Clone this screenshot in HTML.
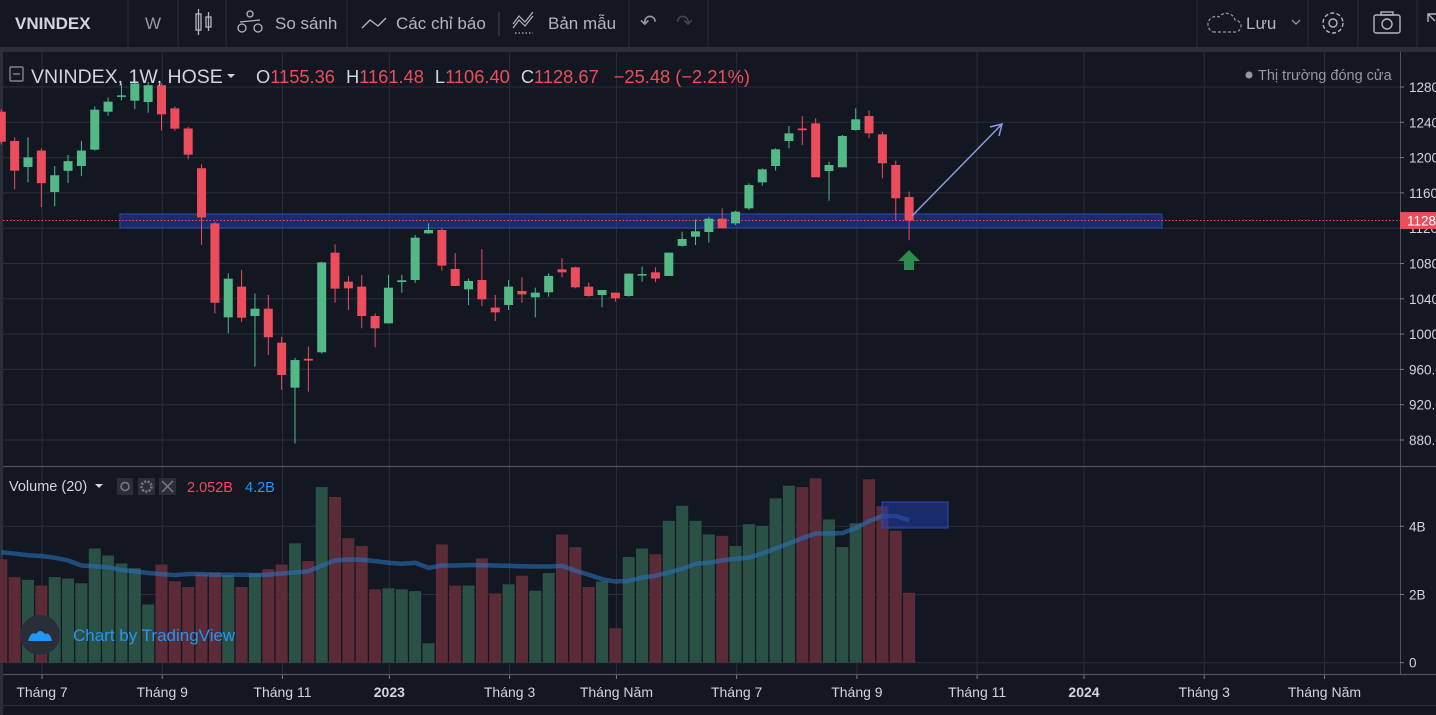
<!DOCTYPE html>
<html><head><meta charset="utf-8"><style>
html,body{margin:0;padding:0;background:#131722;width:1436px;height:715px;overflow:hidden;font-family:"Liberation Sans","DejaVu Sans",sans-serif}
svg{position:absolute;left:0;top:0}
</style></head><body>
<svg id="chart" width="1436" height="715" viewBox="0 0 1436 715" xmlns="http://www.w3.org/2000/svg">
<rect x="0" y="0" width="1436" height="715" fill="#131722"/>
<g id="toolbar">
<rect x="0" y="0" width="1436" height="47" fill="#131722"/>
<rect x="0" y="47" width="1436" height="5" fill="#2a2e39"/>
<g stroke="#2a2e39" stroke-width="1">
<line x1="128" y1="0" x2="128" y2="47"/><line x1="178" y1="0" x2="178" y2="47"/><line x1="226" y1="0" x2="226" y2="47"/><line x1="347" y1="0" x2="347" y2="47"/><line x1="499" y1="12" x2="499" y2="36" stroke="#434651"/><line x1="629" y1="0" x2="629" y2="47"/><line x1="708" y1="0" x2="708" y2="47"/><line x1="1197" y1="0" x2="1197" y2="47"/><line x1="1308" y1="0" x2="1308" y2="47"/><line x1="1358" y1="0" x2="1358" y2="47"/><line x1="1417" y1="0" x2="1417" y2="47"/>
</g>
<text x="15" y="29" fill="#d1d4dc" font-size="17" font-weight="bold">VNINDEX</text>
<text x="145" y="29" fill="#9598a1" font-size="17">W</text>
<g stroke="#b2b5be" fill="none" stroke-width="1.3"><rect x="196" y="14" width="5" height="16"/><line x1="198.5" y1="9" x2="198.5" y2="35"/><rect x="206" y="17" width="5" height="10"/><line x1="208.5" y1="12" x2="208.5" y2="31"/></g>
<g stroke="#b2b5be" fill="none" stroke-width="1.3"><circle cx="250" cy="14" r="3"/><circle cx="242" cy="28" r="4"/><circle cx="258" cy="28" r="4"/><line x1="240" y1="22" x2="260" y2="20"/></g>
<text x="275" y="29" fill="#b2b5be" font-size="17">So sánh</text>
<polyline points="362,28 370,20 378,26 386,18" stroke="#b2b5be" fill="none" stroke-width="1.4"/>
<text x="396" y="29" fill="#b2b5be" font-size="17">Các chỉ báo</text>
<g stroke="#b2b5be" fill="none" stroke-width="1.2"><polyline points="513,24 519,16 525,22 533,12"/><polyline points="513,28 519,20 525,26 533,16"/><line x1="515" y1="33" x2="533" y2="33" stroke-dasharray="1.5 2"/></g>
<text x="548" y="29" fill="#b2b5be" font-size="17">Bản mẫu</text>
<text x="640" y="29" fill="#9598a1" font-size="20">↶</text>
<text x="676" y="29" fill="#434651" font-size="20">↷</text>
<path d="M1213,32 h22 a6,6 0 0 0 0,-12 a9,9 0 0 0 -16,-3 a6,6 0 0 0 -6,15 z" fill="none" stroke="#9598a1" stroke-width="1.2" stroke-dasharray="3 2"/>
<text x="1246" y="29" fill="#b2b5be" font-size="17">Lưu</text>
<polyline points="1292,20 1296,24 1300,20" fill="none" stroke="#9598a1" stroke-width="1.3"/>
<g fill="none" stroke="#b2b5be" stroke-width="1.4"><circle cx="1333" cy="23" r="4"/><circle cx="1333" cy="23" r="10" stroke-dasharray="4 2.3"/></g>
<g fill="none" stroke="#b2b5be" stroke-width="1.4"><rect x="1374" y="15" width="26" height="18" rx="2"/><circle cx="1387" cy="24" r="5"/><rect x="1381" y="12" width="12" height="3"/></g>
<path d="M1428,22 v-8 h8 M1428,14 l7,7" fill="none" stroke="#b2b5be" stroke-width="1.4"/>
</g>
<rect x="0" y="52" width="3" height="663" fill="#2a2e39"/>
<g id="grid"></g>
<g id="vol"></g>
<g id="price"></g>
<g id="axes"></g>
<g id="overlay"></g>
</svg>
<script>
const NS='http://www.w3.org/2000/svg';
const opens=[1252,1218.8,1189.4,1208,1161,1185,1190.5,1209,1252,1270,1264.5,1263,1282,1255.8,1233,1188,1125.5,1019,1053.8,1020.5,1028.8,990.3,939.3,972,979.4,1092.3,1059.4,1053.8,1020.5,1012.2,1059,1061.3,1114.2,1118,1073.8,1050.7,1061.3,1030,1033,1048.9,1041.7,1047.4,1073.4,1075.7,1053.8,1044.3,1047,1043.2,1068,1070,1065.9,1100,1110.4,1115.7,1130.8,1125.5,1142.5,1172,1190.5,1218.8,1233,1238.8,1184.8,1189,1231.3,1247.1,1226.4,1191.6,1155.36];
const closes=[1218,1185.2,1200.3,1171,1180,1196,1208,1254.3,1263.4,1270.5,1284,1282,1249,1232.8,1203.3,1132.3,1035.6,1062.8,1018.6,1028.8,996.4,953.7,970.6,970,1081.3,1051.5,1051.9,1020.5,1006.6,1052.6,1061,1109.3,1118,1077.6,1054.5,1060.2,1039.4,1024.7,1053.8,1045,1047,1065.9,1070,1053,1043.2,1050,1040.6,1068.5,1068,1063,1092.3,1107.8,1116.5,1130.8,1119.9,1138.7,1168.9,1186.7,1209.4,1227.5,1231,1177.7,1191.6,1224.5,1243.4,1227.5,1193.5,1153.9,1128.67];
const highs=[1255,1223,1223,1210.5,1190.5,1203,1219,1258,1268,1284,1290,1286,1284,1258,1235,1192.4,1127.4,1068.9,1072.7,1046,1044.3,997,973,985.8,1082,1101.7,1066,1067,1023.6,1067,1067,1112.3,1125.5,1119.9,1092,1063,1096.4,1044.3,1061.3,1064.3,1052.6,1068.9,1085.9,1076.4,1058.3,1050,1047,1068.9,1076.4,1075.7,1092.3,1116,1130,1133,1142.5,1139.9,1170.8,1187.8,1210.5,1235.8,1247,1244.5,1195.4,1225.6,1255.8,1253.2,1229.4,1196.5,1161.48];
const lows=[1215,1164,1172,1144,1145,1171,1179,1208,1247.5,1265,1255,1251,1230.5,1230.5,1198,1101,1023.6,1001,1014,963,976.3,936.7,876,934.8,978,1035.6,1027.3,1006.6,985,1012,1047,1058,1113.5,1072,1054.5,1033,1031.8,1014.9,1027.3,1035.6,1019,1042.4,1064.3,1051.9,1042.4,1030.3,1036.8,1042.4,1059.4,1058.7,1065.9,1099,1101,1103.6,1119.9,1123.6,1140.6,1168.2,1185.2,1210.5,1214.3,1177.7,1151.2,1189,1230.5,1221.8,1176.5,1128.5,1106.4];
const volumes=[3.03,2.51,2.43,2.26,2.51,2.47,2.33,3.35,3.14,2.91,2.77,1.71,2.88,2.39,2.22,2.62,2.65,2.57,2.22,2.62,2.74,2.88,3.5,2.98,5.15,4.86,3.65,3.42,2.15,2.18,2.15,2.1,0.57,3.47,2.26,2.26,3.06,2.03,2.3,2.55,2.11,2.63,3.76,3.39,2.22,2.38,1.01,3.1,3.35,3.18,4.16,4.6,4.16,3.76,3.72,3.42,4.06,4.01,4.82,5.19,5.15,5.41,4.2,3.39,4.09,5.38,4.59,3.87,2.052];
const volumeMA=[3.24,3.2,3.15,3.13,3.08,3.0,2.85,2.83,2.8,2.72,2.68,2.63,2.6,2.57,2.6,2.6,2.58,2.58,2.58,2.57,2.58,2.62,2.65,2.68,2.85,3.0,3.03,3.02,2.98,2.93,2.9,2.93,2.78,2.85,2.85,2.86,2.86,2.85,2.84,2.83,2.82,2.82,2.84,2.7,2.58,2.45,2.38,2.4,2.5,2.55,2.65,2.75,2.9,2.93,3.0,3.05,3.08,3.2,3.35,3.5,3.65,3.79,3.79,3.8,3.95,4.15,4.3,4.3,4.18];
const priceTicks=[1280,1240,1200,1160,1120,1080,1040,1000,960,920,880];
const priceTickLabels=['1280.00','1240.00','1200.00','1160.00','1120.00','1080.00','1040.00','1000.00','960.00','920.00','880.00'];
const volTicks=[4,2,0];
const volTickLabels=['4B','2B','0'];
const timeTickIdx=[3,12,21,29,38,46,55,64,73,81,90,99];
const timeTickLabels=['Tháng 7','Tháng 9','Tháng 11','2023','Tháng 3','Tháng Năm','Tháng 7','Tháng 9','Tháng 11','2024','Tháng 3','Tháng Năm'];
const lastClose=1128.67;

const X0=1.3, STEP=13.35;
const xAt=i=>X0+STEP*i;
const yP=p=>87+(1280-p)*0.8825;
const yV=v=>662.7-v*34.1;
const timeX=i=>42+(i-3)*(1084-42)/78;
const UP='#53b987', DN='#eb4d5c';
function mk(tag,attrs,parent){const e=document.createElementNS(NS,tag);for(const k in attrs)e.setAttribute(k,attrs[k]);parent.appendChild(e);return e;}
const grid=document.getElementById('grid'),vol=document.getElementById('vol'),price=document.getElementById('price'),axes=document.getElementById('axes'),ov=document.getElementById('overlay');

priceTicks.forEach(p=>{const l=mk('line',{x1:3,x2:1400,y1:yP(p),y2:yP(p),stroke:'#2a2e39','stroke-width':1},grid);

});
volTicks.forEach(v=>{const l=mk('line',{x1:3,x2:1400,y1:yV(v),y2:yV(v),stroke:'#2a2e39','stroke-width':1},grid);

});
timeTickIdx.forEach(i=>{const x=timeX(i);const l=mk('line',{x1:x,x2:x,y1:52,y2:674,stroke:'#2a2e39','stroke-width':1},grid);

});

volumes.forEach((v,i)=>{const up=closes[i]>=opens[i];const x=xAt(i);
const r=mk('rect',{x:x-6,y:yV(v),width:12,height:yV(0)-yV(v),fill:up?'#2b5146':'#5b2b37'},vol);

});
const maPts=volumeMA.map((v,i)=>xAt(i)+','+yV(v)).join(' ');
const ma=mk('polyline',{points:maPts,fill:'none',stroke:'#2a6fb8','stroke-opacity':0.6,'stroke-width':4.5,'stroke-linejoin':'round'},vol);



const zone=mk('rect',{x:120,y:214,width:1042,height:14,fill:'rgba(33,60,170,0.55)',stroke:'#2a4bb0','stroke-width':1},price);


const lp=mk('line',{x1:3,x2:1400,y1:yP(lastClose),y2:yP(lastClose),stroke:'#eb4d5c','stroke-width':1,'stroke-dasharray':'1.5 2'},price);



opens.forEach((o,i)=>{const c=closes[i];const up=c>=o;const col=up?UP:DN;const x=xAt(i);
const w=mk('line',{x1:x,x2:x,y1:yP(highs[i]),y2:yP(lows[i]),stroke:col,'stroke-width':1},price);


const top=yP(Math.max(o,c)),bot=yP(Math.min(o,c));
const b=mk('rect',{x:x-4.5,y:top,width:9,height:Math.max(1.5,bot-top),fill:col},price);

});

const ar=mk('g',{stroke:'#8a9be0','stroke-width':1.5,fill:'none'},ov);


mk('line',{x1:912,y1:216,x2:1002,y2:124},ar);
mk('polyline',{points:'990,127 1002,124 999,136'},ar);
const ga=mk('path',{d:'M909,250 L920,261 L914,261 L914,270 L904,270 L904,261 L898,261 Z',fill:'#2e8b4e'},ov);


const vz=mk('rect',{x:882,y:502,width:66,height:26,fill:'rgba(33,60,170,0.55)',stroke:'#2a4bb0','stroke-width':1},ov);



mk('rect',{x:1400,y:52,width:36,height:623,fill:'#131722'},axes);
mk('line',{x1:1400.5,x2:1400.5,y1:52,y2:675,stroke:'#50535e','stroke-width':1},axes);
mk('line',{x1:3,x2:1436,y1:466.5,y2:466.5,stroke:'#50535e','stroke-width':1.2},axes);
mk('line',{x1:3,x2:1436,y1:674.5,y2:674.5,stroke:'#50535e','stroke-width':1.2},axes);
mk('line',{x1:3,x2:1436,y1:705.5,y2:705.5,stroke:'#2a2e39','stroke-width':1},axes);
priceTicks.forEach((p,i)=>{mk('line',{x1:1400,x2:1404,y1:yP(p),y2:yP(p),stroke:'#787b86'},axes);
const t=mk('text',{x:1409,y:yP(p)+5,fill:'#d1d4dc','font-size':13.5},axes);t.textContent=priceTickLabels[i];

});
volTicks.forEach((v,i)=>{mk('line',{x1:1400,x2:1404,y1:yV(v),y2:yV(v),stroke:'#787b86'},axes);
const t=mk('text',{x:1409,y:yV(v)+5,fill:'#d1d4dc','font-size':13.5},axes);t.textContent=volTickLabels[i];

});
const pl=mk('rect',{x:1400,y:yP(lastClose)-8.5,width:36,height:17,fill:'#eb4d5c'},axes);


const plt=mk('text',{x:1407,y:yP(lastClose)+5,fill:'#ffffff','font-size':13.5},axes);plt.textContent='1128.67';


timeTickIdx.forEach((i,k)=>{const x=timeX(i);mk('line',{x1:x,x2:x,y1:675,y2:679,stroke:'#787b86'},axes);
const bold=/^\d{4}$/.test(timeTickLabels[k]);
const t=mk('text',{x:x,y:697,fill:'#d1d4dc','font-size':14,'text-anchor':'middle','font-weight':bold?'bold':'normal'},axes);t.textContent=timeTickLabels[k];

});
</script>
<svg width="1436" height="715" style="pointer-events:none" xmlns="http://www.w3.org/2000/svg">
<g>
<rect x="10" y="67" width="13" height="14" rx="1" fill="none" stroke="#9598a1" stroke-width="1.2"/>
<line x1="13" y1="74" x2="20" y2="74" stroke="#9598a1" stroke-width="1.2"/>
<text x="31" y="83" fill="#d1d4dc" font-size="19.5">VNINDEX, 1W, HOSE</text>
<path d="M227,74 l4,4 l4,-4 z" fill="#d1d4dc"/>
<text x="256" y="83" font-size="18.3"><tspan fill="#d1d4dc">O</tspan><tspan fill="#eb4d5c">1155.36</tspan><tspan fill="#d1d4dc" dx="11">H</tspan><tspan fill="#eb4d5c">1161.48</tspan><tspan fill="#d1d4dc" dx="11">L</tspan><tspan fill="#eb4d5c">1106.40</tspan><tspan fill="#d1d4dc" dx="11">C</tspan><tspan fill="#eb4d5c">1128.67</tspan><tspan fill="#eb4d5c" dx="15">−25.48 (−2.21%)</tspan></text>
</g>
<g><circle cx="1249" cy="75" r="3.5" fill="#9598a1"/><text x="1258" y="80" fill="#9598a1" font-size="14.5">Thị trường đóng cửa</text></g>
<g>
<text x="9" y="491" fill="#d1d4dc" font-size="14.5">Volume (20)</text>
<path d="M95,484 l4,4 l4,-4 z" fill="#d1d4dc"/>
<rect x="117" y="478" width="16" height="17" fill="#2a2e39"/>
<circle cx="125" cy="486.5" r="4" fill="none" stroke="#787b86" stroke-width="1.5"/>
<rect x="138" y="478" width="17" height="17" fill="#2a2e39"/>
<circle cx="146.5" cy="486.5" r="5" fill="none" stroke="#787b86" stroke-width="2.5" stroke-dasharray="2 1.5"/>
<rect x="159" y="478" width="17" height="17" fill="#2a2e39"/>
<path d="M162,481 l11,11 M173,481 l-11,11" stroke="#787b86" stroke-width="1.5"/>
<text x="187" y="492" fill="#eb4d5c" font-size="14.5">2.052B</text>
<text x="245" y="492" fill="#2196f3" font-size="14.5">4.2B</text>
</g>
<g>
<circle cx="40" cy="635" r="20" fill="#2a2e39"/>
<path d="M28,641 q3,-10 8,-7 q4,-6 9,0 q5,-2 7,7 z" fill="#2196f3"/>
<text x="73" y="641" fill="#2196f3" font-size="17">Chart by TradingView</text>
</g>
</svg>
</body></html>
